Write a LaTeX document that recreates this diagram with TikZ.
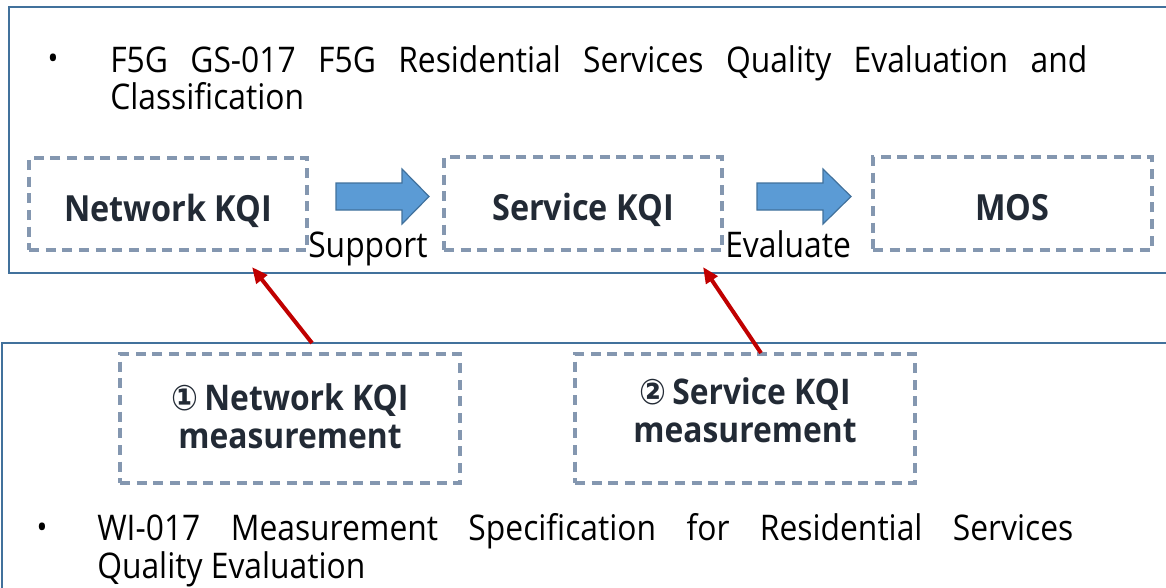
\documentclass[tikz,border=0pt]{standalone}
\usepackage{fontspec}
\setmainfont{Open Sans}[FakeStretch=0.9]
\newfontfamily\dejavu{DejaVu Sans}[FakeStretch=0.9]
\usetikzlibrary{arrows.meta}
\definecolor{panelblue}{HTML}{41719C}
\definecolor{dashgray}{HTML}{8497B0}
\definecolor{arrowfill}{HTML}{5B9BD5}
\definecolor{darktext}{HTML}{222A35}
\definecolor{redline}{HTML}{C00000}
\tikzset{
  panel/.style={draw=panelblue, line width=1.6pt},
  dbox/.style={draw=dashgray, line width=2.5pt, dash pattern=on 7.5pt off 5pt,
    font=\fontsize{27}{28.5}\selectfont\bfseries, text=darktext, align=center},
  mbox/.style={dbox, font=\fontsize{26.5}{28.5}\selectfont\bfseries},
  blockarrow/.style={draw=panelblue, fill=arrowfill, line width=0.9pt},
  redarrow/.style={draw=redline, line width=3pt, -{Triangle[length=12pt,width=10pt]}},
  bodytext/.style={font=\fontsize{26.5}{28}\selectfont, inner sep=0pt, anchor=base west},
  bulletmark/.style={font=\fontsize{24}{27.75}\selectfont, inner sep=0pt}
}
\begin{document}
\begin{tikzpicture}[x=0.75pt,y=-0.75pt]
\useasboundingbox (0,0) rectangle (1166,587);
% panels
\draw[panel] (9,7) rectangle (1180,273);
\draw[panel] (2,343) rectangle (1180,589);
% top text
\node[bulletmark] (b1) at (53,62) {•};
\node[bodytext] (t1a) at (110,72) {\makebox[732.75pt][s]{F5G GS-017 F5G Residential Services Quality Evaluation and}};
\node[bodytext] (t1b) at (110,109) {Classification};
% dashed boxes
\node[dbox, minimum width=208.5pt, minimum height=69pt, text height=26pt, text depth=0pt] (nk) at (168,204) {Network KQI};
\node[dbox, minimum width=208.5pt, minimum height=69.75pt, text height=26pt, text depth=0pt] (sk) at (583,203.5) {Service KQI};
\node[dbox, minimum width=209.25pt, minimum height=69.75pt, text height=26pt, text depth=0pt] (mos) at (1012.5,203.5) {MOS};
% block arrows
\draw[blockarrow] (336,183) -- (402,183) -- (402,169) -- (429,196.5) -- (402,224) -- (402,210) -- (336,210) -- cycle;
\draw[blockarrow] (757,183) -- (823,183) -- (823,169) -- (851,196.5) -- (823,224) -- (823,210) -- (757,210) -- cycle;
\node[bodytext] (sup) at (308,257) {Support};
\node[bodytext] (eva) at (725,257) {Evaluate};
% measurement boxes
\node[mbox, minimum width=255pt, minimum height=96.75pt] (m1) at (290,418.5)
  {\raisebox{-8.5pt}[0pt][0pt]{\begin{tabular}{@{}c@{}}{\dejavu ①}\,Network KQI\\measurement\end{tabular}}};
\node[mbox, minimum width=255pt, minimum height=96.75pt] (m2) at (745,418.5)
  {\raisebox{-4pt}[0pt][0pt]{\begin{tabular}{@{}c@{}}{\dejavu ②}\,Service KQI\\measurement\end{tabular}}};
% red arrows
\coordinate (s1) at (312,343);
\coordinate (e1) at (252,267);
\coordinate (s2) at (761,353);
\coordinate (e2) at (703,267);
\draw[redarrow] (s1) -- (e1);
\draw[redarrow] (s2) -- (e2);
% bottom text
\node[bulletmark] (b2) at (42,531) {•};
\node[bodytext] (t2a) at (97,540) {\makebox[732pt][s]{WI-017 Measurement Specification for Residential Services}};
\node[bodytext] (t2b) at (97,578) {Quality Evaluation};
\end{tikzpicture}
\end{document}
